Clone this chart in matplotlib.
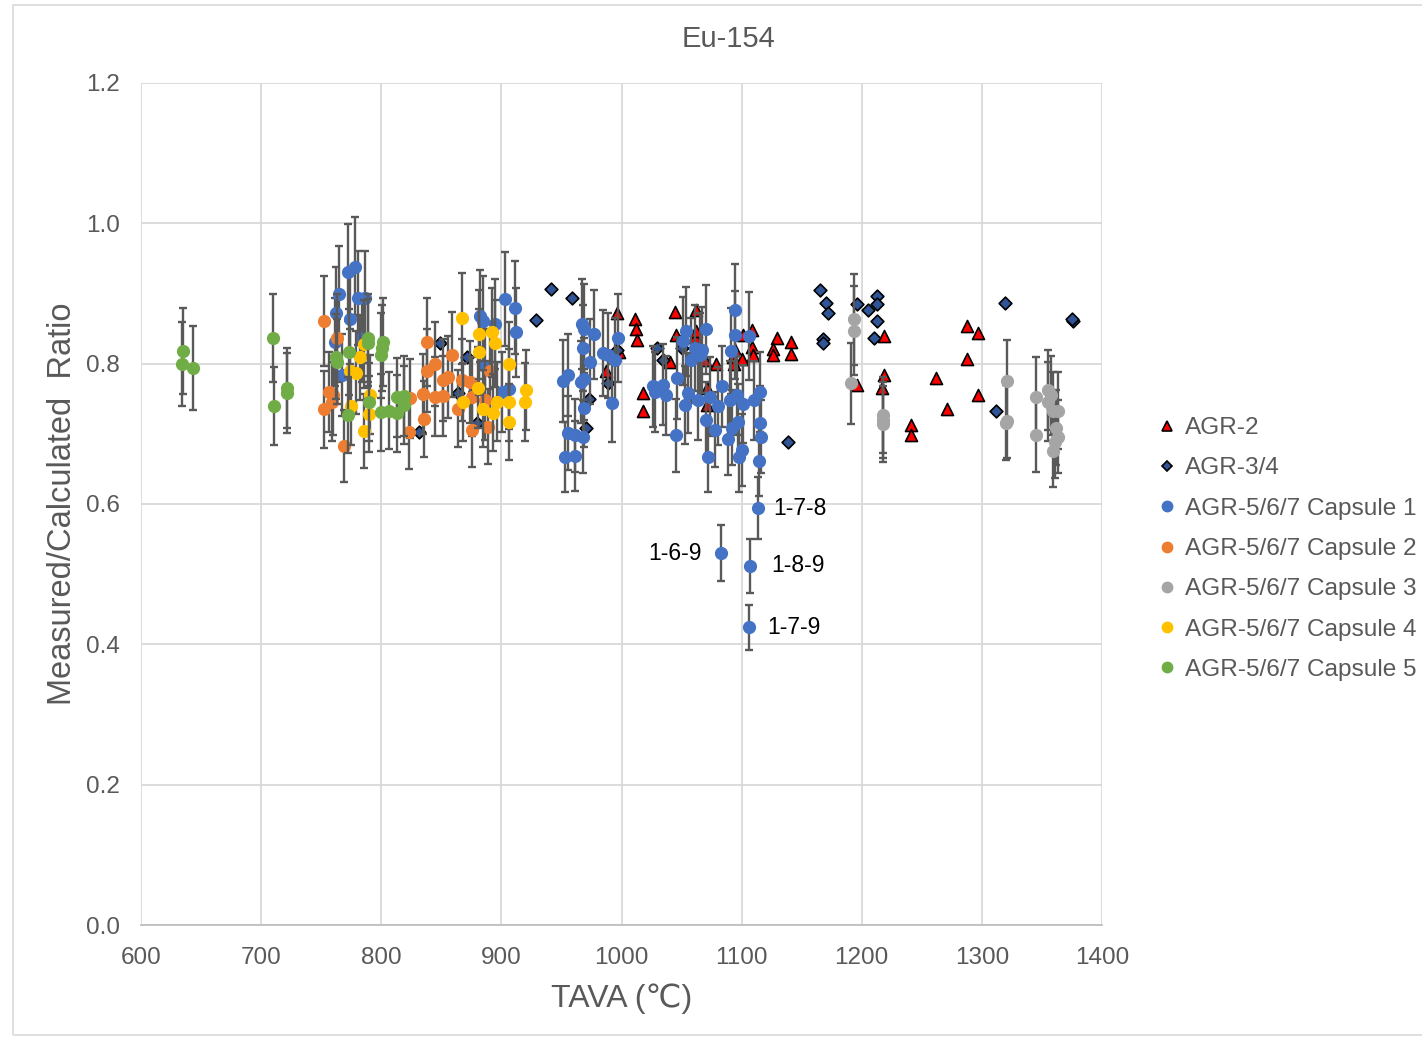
import matplotlib
matplotlib.use("Agg")
from matplotlib import pyplot as plt
from matplotlib.lines import Line2D
from matplotlib.patches import Rectangle
import numpy as np

plt.rcParams['font.family'] = ['Liberation Sans', 'DejaVu Sans']

# AGR-2 (no error bars)
agr2_x = [996.0, 998.2, 987.1, 1011.2, 1012.0, 1013.1, 1017.6, 1017.6, 1040.4, 1044.6,
          1045.4, 1062.3, 1061.2, 1062.0, 1069.5, 1078.6, 1070.9, 1070.9, 1093.0, 1093.6,
          1094.5, 1100.0, 1100.8, 1108.6, 1108.3, 1109.7, 1129.1, 1126.0, 1126.0, 1141.0,
          1141.3, 1195.8, 1218.6, 1218.8, 1216.6, 1240.7, 1240.7, 1261.8, 1270.6, 1287.8,
          1296.5, 1287.8, 1296.7]
agr2_y = [0.872, 0.817, 0.790, 0.863, 0.850, 0.834, 0.758, 0.732, 0.802, 0.873,
          0.841, 0.877, 0.838, 0.846, 0.805, 0.800, 0.765, 0.741, 0.810, 0.800,
          0.819, 0.806, 0.841, 0.848, 0.824, 0.812, 0.837, 0.821, 0.812, 0.831,
          0.814, 0.770, 0.839, 0.784, 0.766, 0.713, 0.699, 0.779, 0.736, 0.854,
          0.843, 0.807, 0.755]

# AGR-3/4 (no error bars)
agr34_x = [831.7, 848.9, 864.1, 871.6, 879.6, 928.8, 941.0, 958.8, 970.4, 973.2,
           989.0, 996.5, 1029.3, 1034.8, 1050.0, 1050.0, 1138.9, 1165.2, 1170.0, 1172.2,
           1168.0, 1168.0, 1196.3, 1205.5, 1213.0, 1213.0, 1213.0, 1210.2, 1311.7, 1319.2,
           1376.0, 1375.0]
agr34_y = [0.703, 0.829, 0.758, 0.810, 0.716, 0.862, 0.907, 0.893, 0.708, 0.750,
           0.772, 0.819, 0.823, 0.805, 0.834, 0.822, 0.689, 0.905, 0.886, 0.872,
           0.835, 0.829, 0.885, 0.877, 0.896, 0.885, 0.861, 0.837, 0.732, 0.886,
           0.861, 0.864]

# AGR-5/6/7 capsules
cap1_x = [761.5, 762.3, 764.5, 767.0, 772.6, 774.0, 778.5, 781.0, 786.2, 783.9,
          882.5, 884.4, 886.4, 894.6, 900.3, 902.7, 906.6, 911.3, 912.2, 951.0,
          955.7, 953.0, 955.7, 961.3, 961.3, 966.0, 966.8, 967.6, 967.6, 968.8,
          968.8, 968.8, 973.8, 977.1, 984.4, 989.0, 991.7, 994.6, 997.4, 1026.5,
          1027.9, 1034.8, 1037.0, 1045.9, 1045.4, 1051.4, 1053.7, 1055.6, 1052.8, 1057.5,
          1061.2, 1064.0, 1065.3, 1066.8, 1070.3, 1070.3, 1072.2, 1073.7, 1077.8, 1080.6,
          1083.4, 1088.9, 1090.2, 1090.8, 1091.7, 1094.3, 1094.3, 1095.8, 1097.2, 1098.0,
          1100.0, 1100.8, 1106.3, 1110.3, 1115.3, 1115.3, 1115.8, 1114.7, 1113.9, 1082.8,
          1107.0, 1106.1]
cap1_y = [0.831, 0.872, 0.900, 0.784, 0.930, 0.864, 0.938, 0.893, 0.893, 0.837,
          0.868, 0.861, 0.797, 0.856, 0.759, 0.892, 0.764, 0.880, 0.845, 0.775,
          0.784, 0.667, 0.701, 0.698, 0.668, 0.774, 0.857, 0.822, 0.696, 0.850,
          0.778, 0.737, 0.803, 0.842, 0.815, 0.812, 0.744, 0.805, 0.837, 0.768,
          0.760, 0.770, 0.755, 0.779, 0.698, 0.832, 0.846, 0.758, 0.741, 0.805,
          0.822, 0.748, 0.812, 0.819, 0.849, 0.720, 0.667, 0.753, 0.706, 0.740,
          0.768, 0.693, 0.748, 0.818, 0.709, 0.876, 0.841, 0.755, 0.717, 0.667,
          0.677, 0.743, 0.839, 0.748, 0.760, 0.715, 0.696, 0.661, 0.594, 0.530,
          0.512, 0.424]

cap2_x = [752.3, 762.9, 756.8, 758.7, 752.3, 769.3, 760.0, 837.8, 844.7, 837.8,
          858.6, 851.6, 855.8, 835.0, 844.7, 851.6, 823.9, 835.6, 823.4, 867.0,
          874.0, 875.3, 890.5, 886.4, 864.1, 875.3, 889.1]
cap2_y = [0.861, 0.837, 0.760, 0.746, 0.735, 0.683, 0.755, 0.831, 0.799, 0.790,
          0.813, 0.777, 0.781, 0.757, 0.753, 0.754, 0.751, 0.721, 0.703, 0.777,
          0.774, 0.753, 0.790, 0.748, 0.736, 0.706, 0.710]

cap3_x = [1193.5, 1193.5, 1191.0, 1217.9, 1217.4, 1217.4, 1320.6, 1319.8, 1320.6, 1344.7,
          1344.7, 1354.8, 1357.2, 1355.3, 1359.5, 1363.6, 1361.7, 1363.6, 1360.8, 1359.5]
cap3_y = [0.863, 0.847, 0.772, 0.727, 0.720, 0.714, 0.776, 0.716, 0.719, 0.753,
          0.698, 0.762, 0.755, 0.746, 0.733, 0.733, 0.709, 0.696, 0.689, 0.675]

cap4_x = [785.6, 782.3, 774.0, 779.0, 790.6, 774.6, 789.8, 785.6, 866.9, 868.3,
          881.6, 892.6, 894.6, 881.6, 906.2, 880.8, 896.1, 884.4, 892.9, 906.6,
          920.5, 919.7, 906.6]
cap4_y = [0.828, 0.809, 0.790, 0.787, 0.756, 0.740, 0.728, 0.704, 0.865, 0.745,
          0.842, 0.845, 0.829, 0.817, 0.799, 0.766, 0.746, 0.736, 0.730, 0.745,
          0.762, 0.745, 0.717]

cap5_x = [634.7, 633.8, 643.5, 709.6, 711.0, 721.3, 721.3, 762.0, 763.0, 773.0,
          772.6, 789.2, 788.7, 789.8, 799.5, 800.3, 801.7, 799.8, 806.7, 812.8,
          812.8, 818.9, 818.9]
cap5_y = [0.818, 0.800, 0.794, 0.837, 0.740, 0.765, 0.758, 0.810, 0.803, 0.816,
          0.727, 0.836, 0.830, 0.745, 0.812, 0.822, 0.831, 0.731, 0.733, 0.729,
          0.752, 0.754, 0.741]

# relative measurement uncertainty used for the error bars
REL_ERR = 0.075

# labelled outliers
outlier_labels = ['1-7-8', '1-6-9', '1-8-9', '1-7-9']
outlier_x = [1113.9, 1082.8, 1107.0, 1106.1]
outlier_y = [0.594, 0.530, 0.512, 0.424]

fig = plt.figure(figsize=(14.22, 10.37), dpi=100)
ax = fig.add_axes([141 / 1422, 1 - 925 / 1037, 961 / 1422, 842 / 1037])

# chart area border
fig.patches.append(Rectangle((13 / 1422, 2 / 1037), 1.0, 1 - 7 / 1037, transform=fig.transFigure,
                             fill=False, edgecolor='#d9d9d9', linewidth=1.2, zorder=0))

ax.scatter(agr2_x, agr2_y, marker='^', s=75, facecolor='#ff0000', edgecolor='black',
           linewidth=1.2, zorder=3)
ax.scatter(agr34_x, agr34_y, marker='D', s=42, facecolor='#2f5597', edgecolor='black',
           linewidth=1.2, zorder=3)

capsules = [
    (cap1_x, cap1_y, '#4472c4'),
    (cap2_x, cap2_y, '#ed7d31'),
    (cap3_x, cap3_y, '#a5a5a5'),
    (cap4_x, cap4_y, '#ffc000'),
    (cap5_x, cap5_y, '#70ad47'),
]
for i, (cx, cy, col) in enumerate(capsules):
    cy = np.array(cy)
    ax.errorbar(cx, cy, yerr=REL_ERR * cy, fmt='o', ms=8.5, color=col, mec=col,
                ecolor='#595959', elinewidth=1.7, capsize=3.2, capthick=1.7,
                zorder=4 + i)

offsets = [(11, 0), (-14, 0), (15, 0), (13, 0)]
for lab, lx, ly, off in zip(outlier_labels, outlier_x, outlier_y, offsets):
    ax.annotate(lab, (lx, ly), xytext=off, textcoords='offset points',
                ha='left' if off[0] > 0 else 'right', va='center', fontsize=16.5, color='black')

ax.set_xlim(600, 1400)
ax.set_ylim(0, 1.2)
ax.set_xticks(np.arange(600, 1401, 100))
ax.set_yticks(np.arange(0, 1.21, 0.2))
ax.yaxis.set_major_formatter(matplotlib.ticker.FormatStrFormatter('%.1f'))
ax.grid(True, color='#d9d9d9', linewidth=1.3, zorder=0)
ax.set_axisbelow(True)
for s in ['top', 'right', 'left']:
    ax.spines[s].set_visible(False)
ax.spines['bottom'].set_color('#bfbfbf')
ax.spines['bottom'].set_linewidth(1.3)
ax.tick_params(axis='y', length=0, labelsize=17.5, labelcolor='#595959', pad=15)
ax.tick_params(axis='x', length=0, labelsize=17.5, labelcolor='#595959', pad=16)

ax.set_xlabel('TAVA (℃)', fontsize=23, color='#595959', labelpad=10)
ax.set_ylabel('Measured/Calculated  Ratio', fontsize=23.5, color='#595959', labelpad=6)
fig.text(728 / 1422, 1 - 39 / 1037, 'Eu-154', fontsize=21, color='#595959',
         ha='center', va='center')

handles = [
    Line2D([], [], ls='none', marker='^', ms=7, mfc='#ff0000', mec='black', mew=1.2),
    Line2D([], [], ls='none', marker='D', ms=5.5, mfc='#2f5597', mec='black', mew=1.2),
    Line2D([], [], ls='none', marker='o', ms=7.5, color='#4472c4'),
    Line2D([], [], ls='none', marker='o', ms=7.5, color='#ed7d31'),
    Line2D([], [], ls='none', marker='o', ms=7.5, color='#a5a5a5'),
    Line2D([], [], ls='none', marker='o', ms=7.5, color='#ffc000'),
    Line2D([], [], ls='none', marker='o', ms=7.5, color='#70ad47'),
]
labels = ['AGR-2', 'AGR-3/4', 'AGR-5/6/7 Capsule 1', 'AGR-5/6/7 Capsule 2',
          'AGR-5/6/7 Capsule 3', 'AGR-5/6/7 Capsule 4', 'AGR-5/6/7 Capsule 5']
leg = fig.legend(handles, labels, loc='center left', bbox_to_anchor=(1160 / 1422, 1 - 549 / 1037),
                 frameon=False, fontsize=17.6, handlelength=0.6, handletextpad=0.42,
                 labelspacing=0.745, borderpad=0, borderaxespad=0)
for t in leg.get_texts():
    t.set_color('#595959')

fig.savefig('out.png', dpi=100)
